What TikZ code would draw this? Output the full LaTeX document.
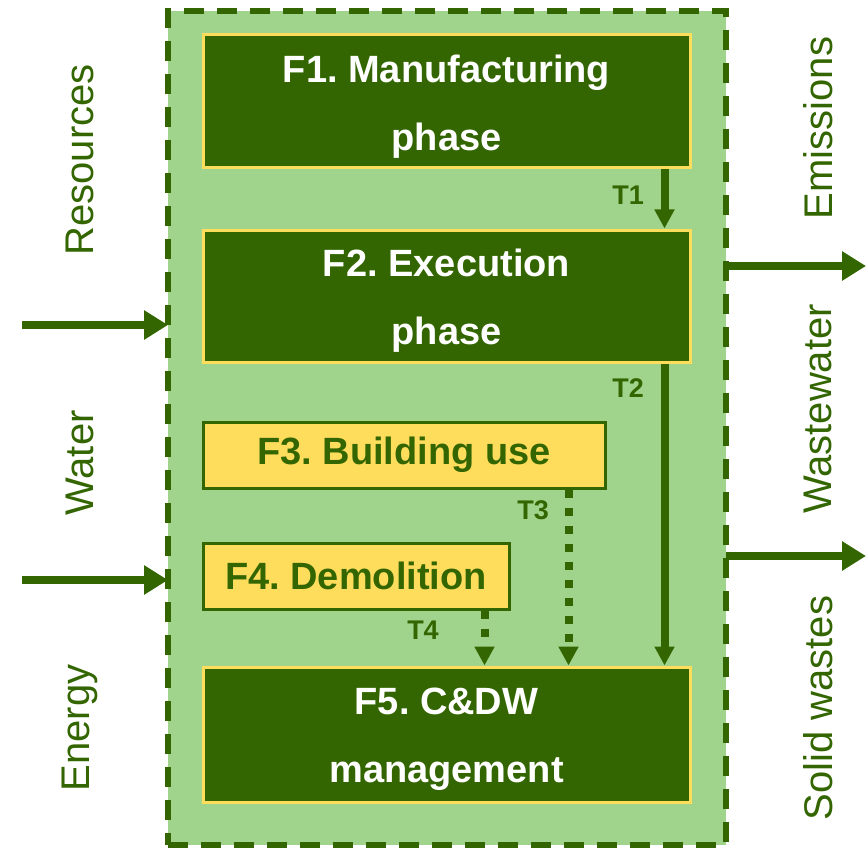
\documentclass[tikz,border=0pt]{standalone}
\usepackage{fontspec}
\setmainfont{Liberation Sans}
\frenchspacing
\usetikzlibrary{arrows.meta}
\definecolor{leafgreen}{HTML}{336600}
\definecolor{palegreen}{HTML}{A0D48C}
\definecolor{butter}{HTML}{FFDD5C}
\newcommand{\tallstrut}{\rule{0pt}{37pt}}
\tikzset{
	systembox/.style={draw=leafgreen, fill=palegreen, line width=6pt, dash pattern=on 20pt off 13pt, outer sep=0pt, inner sep=0pt},
	phasebox/.style={draw=butter, fill=leafgreen, line width=3pt, text=white, align=center, inner sep=0pt, minimum width=487pt, font=\bfseries\fontsize{38}{40}\selectfont},
	usebox/.style={draw=leafgreen, fill=butter, line width=3pt, text=leafgreen, inner sep=0pt, minimum height=66pt, font=\bfseries\fontsize{38}{46}\selectfont},
	flow/.style={draw=leafgreen, line width=8pt, -{Triangle[width=19pt,length=19pt]}},
	dotflow/.style={flow, dash pattern=on 8pt off 10pt},
	bigflow/.style={draw=leafgreen, line width=8pt, -{Triangle[width=28pt,length=24pt]}},
	sidelabel/.style={text=leafgreen, rotate=90, inner sep=0pt, font=\fontsize{40}{48}\selectfont},
	tlabel/.style={text=leafgreen, inner sep=0pt, font=\bfseries\fontsize{27}{32}\selectfont}
}
\begin{document}
\begin{tikzpicture}[x=1pt, y=-1pt]
			%%%%% START %%%%%
			\useasboundingbox (0, 0) rectangle (866, 850);
			
			\node[systembox, minimum width=558pt, minimum height=834pt] (sys) at (447, 428) {};
			
			\node[phasebox, minimum height=133pt] (F1) at (446.5, 101.5) {\tallstrut F1. Manufacturing\\[28pt]phase};
			\node[phasebox, minimum height=132pt] (F2) at (446.5, 296) {\tallstrut F2. Execution\\[28pt]phase};
			\node[usebox, minimum width=402pt] (F3) at (404, 455) {F3. Building use};
			\node[usebox, minimum width=306pt] (F4) at (356, 576) {F4. Demolition};
			\node[phasebox, minimum height=135pt] (F5) at (446.5, 734.5) {\tallstrut F5. C\&DW\\[28pt]management};
			
			\draw[flow] ([xshift=-27pt]F1.south east) -- ([xshift=-27pt]F2.north east);
			\draw[flow] ([xshift=-27pt]F2.south east) -- ([xshift=-27pt]F5.north east);
			\draw[dotflow] ([xshift=-38pt]F3.south east) -- ([xshift=-38pt]F3.south east |- F5.north);
			\draw[dotflow] ([xshift=-26pt]F4.south east) -- ([xshift=-26pt]F4.south east |- F5.north);
			
			\node[tlabel] (t1) at (628, 195) {T1};
			\node[tlabel] (t2) at (628, 388) {T2};
			\node[tlabel] (t3) at (533, 510) {T3};
			\node[tlabel] (t4) at (423, 630) {T4};
			
			\coordinate (in1) at (22, 325);
			\coordinate (in2) at (22, 580);
			\draw[bigflow] (in1) -- (in1 -| sys.west);
			\draw[bigflow] (in2) -- (in2 -| sys.west);
			
			\coordinate (out1) at (866, 266);
			\coordinate (out2) at (866, 556);
			\draw[bigflow] (out1 -| sys.east) -- (out1);
			\draw[bigflow] (out2 -| sys.east) -- (out2);
			
			\node[sidelabel] (res) at (80, 160) {Resources};
			\node[sidelabel] (wat) at (80, 463) {Water};
			\node[sidelabel] (ene) at (80, 728) {Energy};
			\node[sidelabel] (emi) at (818, 128) {Emissions};
			\node[sidelabel] (wst) at (818, 409) {Wastewater};
			\node[sidelabel] (sol) at (818, 708) {Solid wastes};
			
			%%%%% END %%%%%
\end{tikzpicture}
\end{document}
